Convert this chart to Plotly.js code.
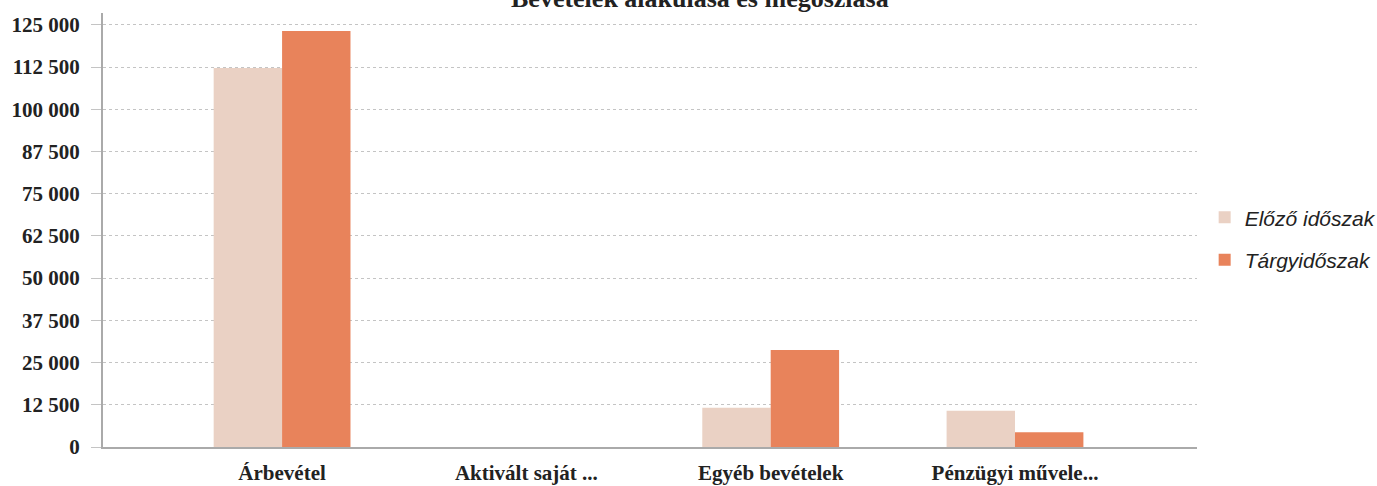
<!DOCTYPE html>
<html>
<head>
<meta charset="utf-8">
<script src="https://cdn.plot.ly/plotly-3.0.1.min.js"></script>
<style>html,body{margin:0;padding:0;background:#fff;}#chart{width:1377px;height:486px;}</style>
</head>
<body>
<div id="chart"></div>
<script>
const categories = ["Árbevétel", "Aktivált saját ...", "Egyéb bevételek", "Pénzügyi művele..."];
const previousPeriod = [112200, 0, 11600, 10700];
const currentPeriod = [123200, 0, 28700, 4400];
const seriesNames = ["Előző időszak", "Tárgyidőszak"];
const titleText = "Bevételek alakulása és megoszlása";

const serifBold = {family: "Liberation Serif, Times New Roman, serif", size: 21, color: "#222", weight: "bold"};

const data = [
  {type: "bar", x: categories, y: previousPeriod, name: seriesNames[0], legendgroup: "a",
   marker: {color: "#EAD1C4"}, hoverinfo: "x+y"},
  {type: "bar", x: categories, y: currentPeriod, name: seriesNames[1], legendgroup: "b",
   marker: {color: "#E8835B"}, hoverinfo: "x+y"}
];

const layout = {
  width: 1377, height: 486,
  margin: {l: 103, r: 180, t: 13, b: 39, pad: 0, autoexpand: false},
  paper_bgcolor: "#fff", plot_bgcolor: "#fff",
  barmode: "group", bargap: 0.44, bargroupgap: 0,
  separators: ", ",
  showlegend: true,
  legend: {x: 1.007, xanchor: "left", y: 0.48, yanchor: "middle",
    font: {family: "Liberation Sans, Arial, sans-serif", size: 21, color: "#222", style: "italic"},
    traceorder: "grouped", tracegroupgap: 12, bgcolor: "rgba(0,0,0,0)"},
  xaxis: {type: "category", range: [-0.733, 3.745], showgrid: false,
    showline: true, linecolor: "#aaa", linewidth: 2, zeroline: false,
    ticks: "", tickfont: serifBold, ticklabelstandoff: 6},
  yaxis: {range: [0, 128500], tick0: 0, dtick: 12500, tickformat: ",d",
    showgrid: true, gridcolor: "#c4c4c4", gridwidth: 1, griddash: "dot",
    showline: true, linecolor: "#aaa", linewidth: 2, zeroline: false,
    ticks: "outside", ticklen: 10, tickcolor: "#c4c4c4", tickwidth: 1,
    tickfont: serifBold, ticklabelstandoff: 7},
  annotations: [{text: titleText, xref: "paper", yref: "paper", x: 0.546, y: 1,
    xanchor: "center", yanchor: "middle", yshift: 15, showarrow: false,
    font: {family: "Liberation Serif, Times New Roman, serif", size: 26, color: "#222", weight: "bold"}}]
};

Plotly.newPlot("chart", data, layout, {displayModeBar: false, staticPlot: true});
</script>
</body>
</html>
